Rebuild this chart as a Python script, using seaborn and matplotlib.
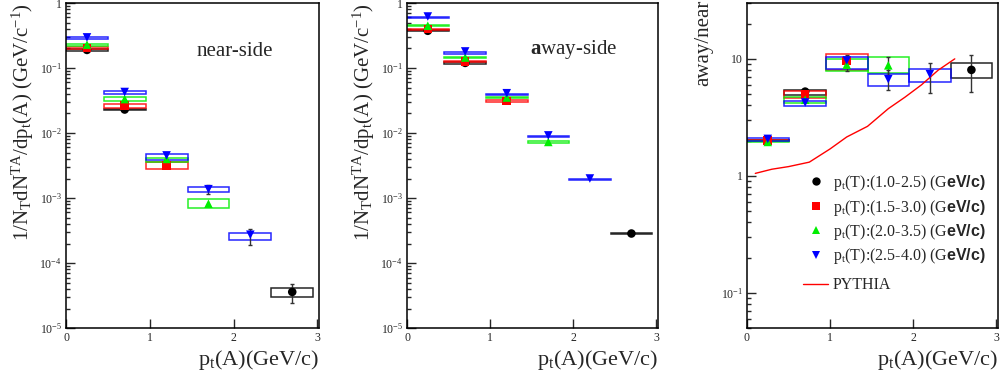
import numpy as np
import pandas as pd
import matplotlib
matplotlib.use("Agg")
import matplotlib.pyplot as plt
from matplotlib.lines import Line2D
from matplotlib.ticker import LogLocator, FixedLocator, FuncFormatter, NullFormatter
import seaborn as sns

# trigger windows, p_t(T) in GeV/c
trig_bins = ["1.0-2.5", "1.5-3.0", "2.0-3.5", "2.5-4.0"]
trig_colors = ["black", "#ff0000", "#00ee00", "#0000ff"]
trig_markers = ["o", "s", "^", "v"]

# near-side yield per p_t(A) bin
near_trig = [0, 0, 0, 1, 1, 1, 2, 2, 2, 2, 3, 3, 3, 3, 3]
near_pt = [0.25, 0.7, 2.7, 0.25, 0.7, 1.2, 0.25, 0.7, 1.2, 1.7, 0.25, 0.7, 1.2, 1.7, 2.2]
near_val = [0.19, 0.023, 3.6e-5, 0.203, 0.0263, 0.00318, 0.229, 0.0333, 0.0040, 8.2e-4,
            0.296, 0.0428, 0.00453, 0.00137, 2.73e-4]
near_sys_lo = [0.186, 0.0228, 3.05e-5, 0.197, 0.0243, 0.0028, 0.222, 0.0314, 0.0036, 7.0e-4,
               0.28, 0.040, 0.0039, 0.00122, 2.3e-4]
near_sys_hi = [0.196, 0.0238, 4.1e-5, 0.210, 0.0283, 0.00358, 0.236, 0.0356, 0.0042, 9.7e-4,
               0.30, 0.045, 0.0047, 0.00146, 2.9e-4]
near_err_lo = [np.nan, np.nan, 2.4e-5, np.nan, np.nan, np.nan, np.nan, np.nan, np.nan, np.nan,
               np.nan, np.nan, np.nan, 0.00114, 1.9e-4]
near_err_hi = [np.nan, np.nan, 4.7e-5, np.nan, np.nan, np.nan, np.nan, np.nan, np.nan, np.nan,
               np.nan, np.nan, np.nan, 0.00158, 3.4e-4]

# away-side yield
away_trig = [0, 0, 0, 1, 1, 1, 2, 2, 2, 2, 3, 3, 3, 3, 3]
away_pt = [0.25, 0.7, 2.7, 0.25, 0.7, 1.2, 0.25, 0.7, 1.2, 1.7, 0.25, 0.7, 1.2, 1.7, 2.2]
away_val = [0.374, 0.12, 2.85e-4, 0.397, 0.127, 0.0312, 0.447, 0.145, 0.0352, 0.0073,
            0.62, 0.18, 0.041, 0.0092, 0.0020]
away_sys_lo = [0.365, 0.117, 2.8e-4, 0.39, 0.124, 0.0305, 0.44, 0.142, 0.0345, 0.00715,
               0.585, 0.165, 0.038, 0.0086, 0.00188]
away_sys_hi = [0.385, 0.123, 2.9e-4, 0.405, 0.13, 0.032, 0.455, 0.148, 0.036, 0.00745,
               0.60, 0.175, 0.0395, 0.0089, 0.00196]

# away/near ratio
ratio_trig = [0, 0, 0, 1, 1, 1, 2, 2, 2, 2, 3, 3, 3, 3, 3]
ratio_pt = [0.25, 0.7, 2.7, 0.25, 0.7, 1.2, 0.25, 0.7, 1.2, 1.7, 0.25, 0.7, 1.2, 1.7, 2.2]
ratio_val = [2.0, 5.25, 8.05, 2.0, 5.0, 9.6, 1.95, 4.47, 8.9, 8.8, 2.07, 4.24, 9.7, 6.7, 7.4]
ratio_sys_lo = [1.97, 4.9, 6.8, 1.97, 4.6, 8.05, 1.93, 4.2, 7.8, 7.55, 2.0, 3.97, 8.2, 5.9, 6.3]
ratio_sys_hi = [2.03, 5.4, 9.2, 2.03, 5.3, 11.0, 1.98, 4.7, 10.0, 10.3, 2.1, 4.4, 10.3, 7.4, 8.2]
ratio_err_lo = [np.nan, np.nan, 5.25, np.nan, np.nan, 7.8, np.nan, np.nan, np.nan, 7.3,
                np.nan, np.nan, np.nan, 5.4, 5.15]
ratio_err_hi = [np.nan, np.nan, 10.8, np.nan, np.nan, 10.8, np.nan, np.nan, np.nan, 10.4,
                np.nan, np.nan, np.nan, 8.1, 9.3]

# PYTHIA away/near
pythia_pt = [0.1, 0.3, 0.5, 0.75, 1.0, 1.2, 1.45, 1.7, 1.9, 2.1, 2.3, 2.5]
pythia_ratio = [1.05, 1.14, 1.2, 1.31, 1.7, 2.15, 2.65, 3.75, 4.7, 6.0, 8.0, 10.0]

sns.set_theme(style="ticks")
plt.rcParams["font.family"] = ["Liberation Serif", "DejaVu Serif"]
plt.rcParams["mathtext.fontset"] = "custom"
plt.rcParams["mathtext.rm"] = "Liberation Serif"
plt.rcParams["mathtext.it"] = "Liberation Serif:italic"
plt.rcParams["mathtext.bf"] = "Liberation Serif:bold"
plt.rcParams["mathtext.sf"] = "Liberation Sans:bold"

palette = dict(zip(trig_bins, trig_colors))
markers = dict(zip(trig_bins, trig_markers))


def make_df(trig, pt, val, lo, hi, elo=None, ehi=None):
    df = pd.DataFrame({"trig": [trig_bins[i] for i in trig], "pt": pt, "val": val,
                       "lo": lo, "hi": hi})
    df["elo"] = elo if elo is not None else np.nan
    df["ehi"] = ehi if ehi is not None else np.nan
    return df


def log_label(v, pos):
    if abs(v - 1) < 1e-9:
        return "1"
    if abs(v - 10) < 1e-9:
        return "10"
    return r"$10^{%d}$" % round(np.log10(v))


def draw_panel(ax, df, ylim):
    ax.set_yscale("log")
    # systematic boxes
    ax.bar(df["pt"], df["hi"] - df["lo"], bottom=df["lo"], width=0.5, fill=False,
           edgecolor=[palette[t] for t in df["trig"]], linewidth=1.1, alpha=0.85, zorder=2)
    err = df.dropna(subset=["elo"])
    if len(err):
        ax.errorbar(err["pt"], err["val"], yerr=[err["val"] - err["elo"], err["ehi"] - err["val"]],
                    fmt="none", ecolor="#333333", elinewidth=1.0, capsize=1.5, zorder=3)
    sns.scatterplot(data=df, x="pt", y="val", hue="trig", style="trig", palette=palette,
                    markers=markers, s=38, linewidth=0, legend=False, ax=ax, zorder=4)
    ax.set_xlim(0, 3.02)
    ax.set_ylim(*ylim)
    ax.xaxis.set_major_locator(FixedLocator([0, 1, 2, 3]))
    ax.yaxis.set_major_locator(LogLocator(base=10))
    ax.yaxis.set_minor_locator(LogLocator(base=10, subs=np.arange(2, 10)))
    ax.yaxis.set_major_formatter(FuncFormatter(log_label))
    ax.yaxis.set_minor_formatter(NullFormatter())
    ax.tick_params(which="both", direction="in", labelsize=8.5, pad=3, width=1.0)
    ax.tick_params(which="major", length=6.5)
    ax.tick_params(which="minor", length=3.2)
    for s in ax.spines.values():
        s.set_linewidth(1.1)
        s.set_color("black")
    ax.set_xlabel(r"p$_\mathrm{t}$(A)(GeV/c)", fontsize=16, va="top", ha="right")
    ax.xaxis.set_label_coords(1.0, -0.06)


fig = plt.figure(figsize=(10.02, 3.78), dpi=100)
ax1 = fig.add_axes([0.0659, 0.132, 0.2525, 0.86])
ax2 = fig.add_axes([0.4062, 0.132, 0.2505, 0.86])
ax3 = fig.add_axes([0.7455, 0.132, 0.2505, 0.86])

near = make_df(near_trig, near_pt, near_val, near_sys_lo, near_sys_hi, near_err_lo, near_err_hi)
away = make_df(away_trig, away_pt, away_val, away_sys_lo, away_sys_hi)
ratio = make_df(ratio_trig, ratio_pt, ratio_val, ratio_sys_lo, ratio_sys_hi, ratio_err_lo, ratio_err_hi)

ylab = r"1/N$_\mathrm{T}$dN$^\mathrm{TA}$/dp$_\mathrm{t}$(A) (GeV/c$^{-1}$)"

draw_panel(ax1, near, (1e-5, 1))
ax1.set_ylabel(ylab, fontsize=15, ha="right")
ax1.yaxis.set_label_coords(-0.12, 1.0)
ax1.text(0.668, 0.85, "near-side", transform=ax1.transAxes, fontsize=15, ha="center", va="center")

draw_panel(ax2, away, (1e-5, 1))
ax2.set_ylabel(ylab, fontsize=15, ha="right")
ax2.yaxis.set_label_coords(-0.12, 1.0)
ax2.text(0.665, 0.858, r"$\mathbf{a}$way-side", transform=ax2.transAxes, fontsize=15,
         ha="center", va="center")

draw_panel(ax3, ratio, (0.05, 30))
sns.lineplot(x=pythia_pt, y=pythia_ratio, color="#ff0000", linewidth=1.0, ax=ax3, zorder=3)
ax3.set_ylabel("away/near", fontsize=15, ha="right")
ax3.yaxis.set_label_coords(-0.135, 1.01)

handles = [Line2D([], [], ls="none", marker=m, color=c, markersize=6, markeredgewidth=0)
           for m, c in zip(trig_markers, trig_colors)]
labels = [r"p$_\mathrm{t}$(T):(%s) (G$\mathsf{eV/c)}$" % b for b in trig_bins]
leg = ax3.legend(handles, labels, loc="upper left", bbox_to_anchor=(0.235, 0.477), frameon=False,
                 fontsize=11.5, handlelength=1.2, handletextpad=0.5, labelspacing=0.28,
                 borderaxespad=0, borderpad=0)
ax3.add_artist(leg)
ax3.legend([Line2D([], [], color="#ff0000", linewidth=1.0)], ["PYTHIA"], loc="center left",
           bbox_to_anchor=(0.223, 0.132), frameon=False, fontsize=11.5, handlelength=1.56,
           handletextpad=0.3, borderaxespad=0, borderpad=0)

fig.savefig("out.png", dpi=100)
